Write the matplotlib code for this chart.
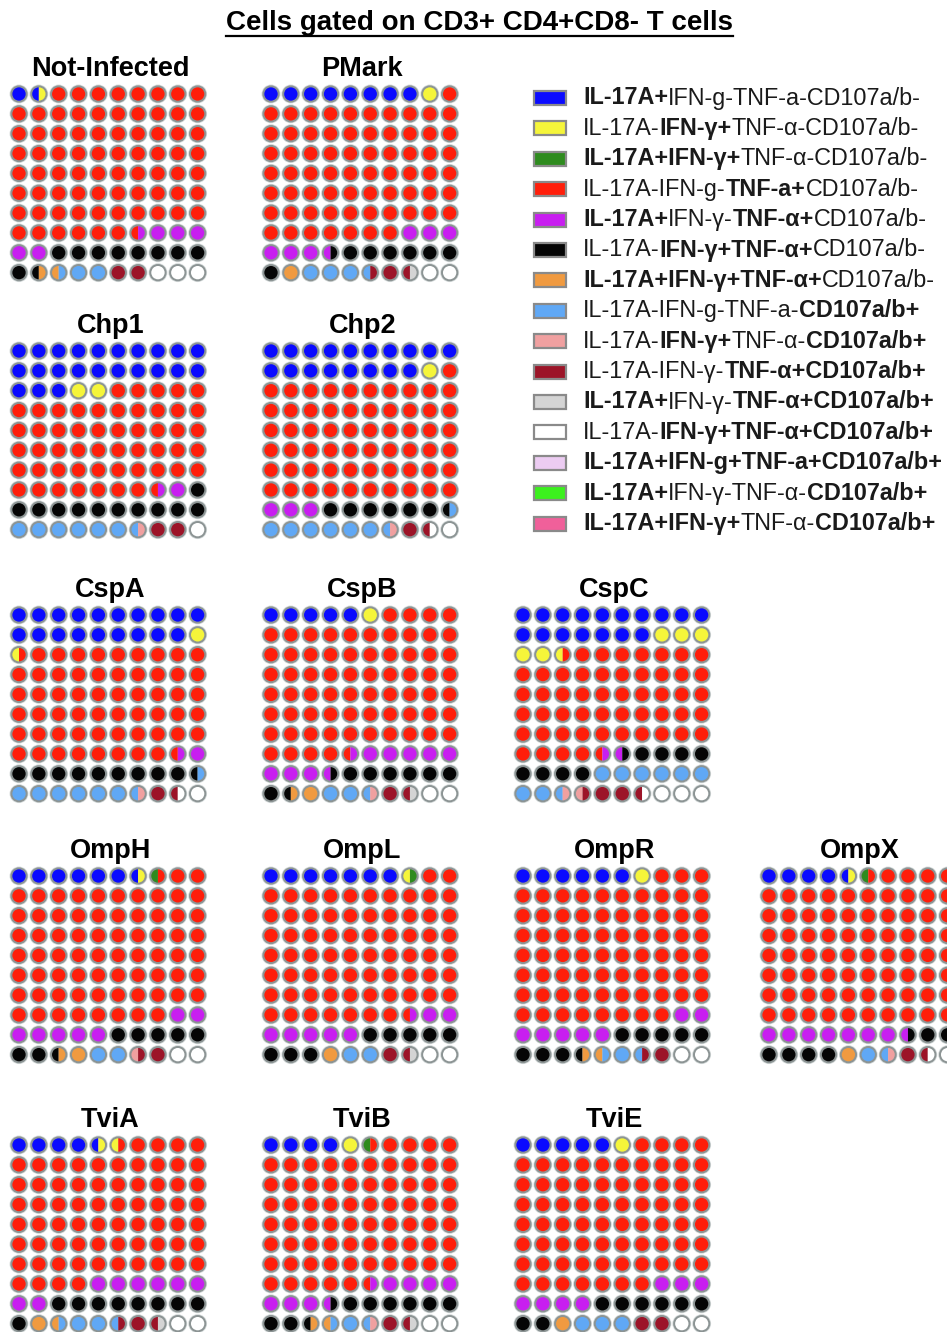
import matplotlib
matplotlib.use("Agg")
import matplotlib.pyplot as plt
from matplotlib.patches import Circle, Wedge, Rectangle
from matplotlib.offsetbox import TextArea, HPacker, AnnotationBbox

plt.rcParams["font.family"] = ["Liberation Sans", "DejaVu Sans"]

title = "Cells gated on CD3+ CD4+CD8- T cells"

# subsets, bold parts between ** markers
subsets = [
    "**IL-17A+**IFN-g-TNF-a-CD107a/b-",
    "IL-17A-**IFN-γ+**TNF-α-CD107a/b-",
    "**IL-17A+IFN-γ+**TNF-α-CD107a/b-",
    "IL-17A-IFN-g-**TNF-a+**CD107a/b-",
    "**IL-17A+**IFN-γ-**TNF-α+**CD107a/b-",
    "IL-17A-**IFN-γ+TNF-α+**CD107a/b-",
    "**IL-17A+IFN-γ+TNF-α+**CD107a/b-",
    "IL-17A-IFN-g-TNF-a-**CD107a/b+**",
    "IL-17A-**IFN-γ+**TNF-α-**CD107a/b+**",
    "IL-17A-IFN-γ-**TNF-α+CD107a/b+**",
    "**IL-17A+**IFN-γ-**TNF-α+CD107a/b+**",
    "IL-17A-**IFN-γ+TNF-α+CD107a/b+**",
    "**IL-17A+IFN-g+TNF-a+CD107a/b+**",
    "**IL-17A+**IFN-γ-TNF-α-**CD107a/b+**",
    "**IL-17A+IFN-γ+**TNF-α-**CD107a/b+**",
]
colors = ["#0a0aff", "#f5f53a", "#2e8b1e", "#ff1e0a", "#c81ef0",
          "#050505", "#f09a40", "#60a8f5", "#f0a0a0", "#9c1428",
          "#d4d4d4", "#ffffff", "#ecccf2", "#3cf01e", "#f0609a"]

# percent of cells in each subset (same order as subsets)
panel_names = ["Not-Infected", "PMark", "Chp1", "Chp2", "CspA", "CspB", "CspC",
               "OmpH", "OmpL", "OmpR", "OmpX", "TviA", "TviB", "TviE"]
not_infected = [1.5, 0.5, 0, 74.5, 5.5, 9.5, 1, 2.5, 0, 2, 0, 3, 0, 0, 0]
pmark = [8, 1, 0, 68, 6.5, 7.5, 1, 3.5, 0, 2, 0.5, 2, 0, 0, 0]
chp1 = [23, 2, 0, 52.5, 1.5, 11, 0, 6.5, 0.5, 2, 0, 1, 0, 0, 0]
chp2 = [18, 1, 0, 61, 3, 6.5, 0, 7, 0.5, 1.5, 0, 1.5, 0, 0, 0]
cspa = [19, 1.5, 0, 58, 1.5, 9.5, 0, 7, 0.5, 1.5, 0, 1.5, 0, 0, 0]
cspb = [5, 1, 0, 68.5, 9, 8, 1.5, 2.5, 0.5, 1.5, 0.5, 2, 0, 0, 0]
cspc = [17, 5.5, 0, 52, 1, 8.5, 0, 8.5, 1, 3, 0, 3.5, 0, 0, 0]
omph = [6.5, 0.5, 0.5, 70.5, 7, 7.5, 1.5, 2, 0.5, 1.5, 0, 2, 0, 0, 0]
ompl = [7, 0.5, 0.5, 69.5, 7.5, 8, 1, 2, 0, 1.5, 0.5, 2, 0, 0, 0]
ompr = [6, 1, 0, 71, 7, 8.5, 1, 2, 0, 1.5, 0, 2, 0, 0, 0]
ompx = [4.5, 0.5, 0.5, 74.5, 7.5, 6.5, 1, 1.5, 0.5, 1.5, 0, 1.5, 0, 0, 0]
tvia = [4.5, 1, 0, 68.5, 8, 9, 1.5, 3, 0, 2, 0.5, 2, 0, 0, 0]
tvib = [4, 1, 0.5, 70, 8, 9, 1, 2, 0.5, 1.5, 0.5, 2, 0, 0, 0]
tvie = [5, 1, 0, 71, 7, 8, 1, 3, 0, 2, 0, 2, 0, 0, 0]
panel_values = [not_infected, pmark, chp1, chp2, cspa, cspb, cspc,
                omph, ompl, ompr, ompx, tvia, tvib, tvie]

# (row, column) slot of each panel on the page
panel_slots = [(0, 0), (0, 1), (1, 0), (1, 1), (2, 0), (2, 1), (2, 2),
               (3, 0), (3, 1), (3, 2), (3, 3), (4, 0), (4, 1), (4, 2)]

W, H = 947, 1332
fig = plt.figure(figsize=(W / 100, H / 100), dpi=100)
fig.patch.set_facecolor("white")

step = 19.85
col_x = [19, 271, 523, 769]
row_y = [94, 351, 615, 876, 1145]
R = 0.385


def halves(values):
    seq = []
    for k, v in enumerate(values):
        seq += [k] * int(round(v * 2))
    return seq


def draw_waffle(ax, values):
    seq = halves(values)
    for i in range(100):
        r, c = divmod(i, 10)
        left, right = colors[seq[2 * i]], colors[seq[2 * i + 1]]
        ax.add_patch(Circle((c, r), 0.475, fc="#c9d0d0", ec="none", alpha=0.8))
        if left == right:
            ax.add_patch(Circle((c, r), R, fc=left, ec="none"))
        else:
            ax.add_patch(Wedge((c, r), R, 90, 270, fc=left, ec="none"))
            ax.add_patch(Wedge((c, r), R, 270, 90, fc=right, ec="none"))
        ax.add_patch(Circle((c, r), R, fc="none", ec="#8c9494", lw=1.4))


for name, values, (pr, pc) in zip(panel_names, panel_values, panel_slots):
    x0 = col_x[pc] - step / 2
    y0 = row_y[pr] - step / 2
    ax = fig.add_axes([x0 / W, 1 - (y0 + 10 * step) / H, 10 * step / W, 10 * step / H])
    ax.set_xlim(-0.5, 9.5)
    ax.set_ylim(9.5, -0.5)
    ax.axis("off")
    draw_waffle(ax, values)
    ax.text(4.6, -1.27, name, ha="center", va="center", fontsize=19.5,
            fontweight="bold", clip_on=False)

# overlay in pixel units for the title and the legend
ov = fig.add_axes([0, 0, 1, 1], facecolor="none")
ov.set_xlim(0, W)
ov.set_ylim(H, 0)
ov.axis("off")

t = ov.text(479, 23, title, ha="center", va="center", fontsize=20, fontweight="bold")
fig.canvas.draw()
bb = t.get_window_extent().transformed(ov.transData.inverted())
ov.plot([bb.x0, bb.x1], [36, 36], color="black", lw=1.6)

for i, (label, col) in enumerate(zip(subsets, colors)):
    y = 98 + i * 30.4
    ov.add_patch(Rectangle((534, y - 7), 32, 14, fc=col, ec="#8a8a8a", lw=1.6))
    parts = label.split("**")
    boxes = []
    for j, seg in enumerate(parts):
        if not seg:
            continue
        boxes.append(TextArea(seg, textprops=dict(
            fontsize=16.8, color="#1a1a1a",
            fontweight="bold" if j % 2 else "normal")))
    pack = HPacker(children=boxes, align="baseline", pad=0, sep=0)
    ov.add_artist(AnnotationBbox(pack, (583, y), xycoords="data",
                                 box_alignment=(0, 0.5), frameon=False, pad=0))

fig.savefig("out.png", dpi=100)
